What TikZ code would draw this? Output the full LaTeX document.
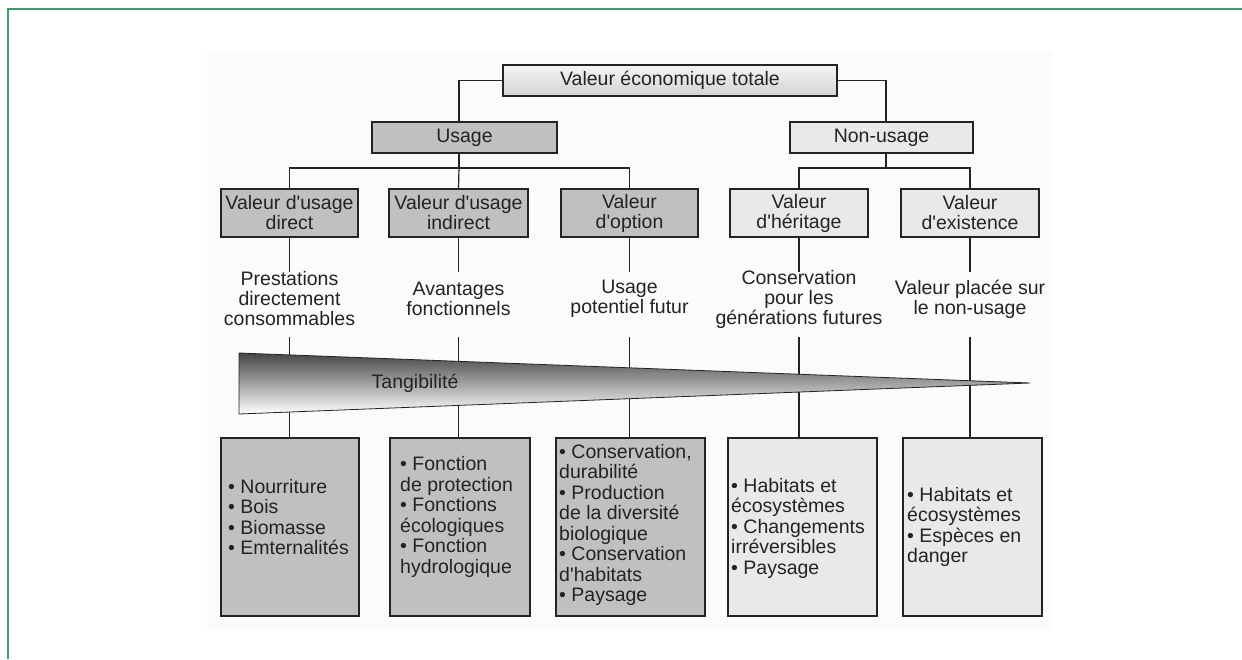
\documentclass[tikz,border=0pt]{standalone}
\usepackage{fontspec}
\setmainfont{Liberation Sans}
\usetikzlibrary{calc}
\definecolor{framegreen}{RGB}{64,155,105}
\definecolor{dk}{RGB}{35,35,35}
\definecolor{usefill}{RGB}{192,192,192}
\definecolor{nonfill}{RGB}{233,233,233}
\definecolor{tridark}{RGB}{70,70,70}
\newcommand{\ap}{\textquotesingle}
\begin{document}
\begin{tikzpicture}[x=1pt,y=-1pt,
  every node/.style={font=\fontsize{19.5}{20}\selectfont, text=dk, inner sep=0pt},
  box/.style={draw=dk, line width=1.2pt},
  ubox/.style={box, fill=usefill},
  nbox/.style={box, fill=nonfill},
  lvl/.style={minimum height=48pt, align=center},
  bot/.style={minimum height=178pt},
  conn/.style={draw=dk, line width=1.2pt},
  lst/.style={align=left, anchor=west, font=\fontsize{19.5}{20.5}\selectfont}
]
\useasboundingbox (0,0) rectangle (1242,659);
\fill[gray!3] (207,52) rectangle (1053,630);
\draw[framegreen, line width=2pt] (8,659) -- (8,9) -- (1242,9);

% top
\node[box, top color=gray!8, bottom color=gray!35, minimum width=334pt, minimum height=31pt] (top) at (670,80.5) {Valeur économique totale};
\node[ubox, minimum width=185pt, minimum height=31pt] (usage) at (464.5,137.5) {Usage};
\node[nbox, minimum width=183pt, minimum height=31pt] (nonusage) at (881.5,137.5) {Non-usage};

% level 3
\node[ubox, lvl, minimum width=137pt] (direct) at (289.5,213) {Valeur d\ap usage\\direct};
\node[ubox, lvl, minimum width=139pt] (indirect) at (458.5,213) {Valeur d\ap usage\\indirect};
\node[ubox, lvl, minimum width=137pt] (option) at (629.5,213) {Valeur\\d\ap option};
\node[nbox, lvl, minimum width=138pt] (heritage) at (799,213) {Valeur\\d\ap héritage};
\node[nbox, lvl, minimum width=138pt] (existence) at (970,213) {Valeur\\d\ap existence};

% junctions
\coordinate (uj) at (459,168);
\coordinate (nj) at (886,168);
\draw[conn] (top.west) -| (uj |- usage.north);
\draw[conn] (top.east) -| (nj |- nonusage.north);
\draw[conn] (uj |- usage.south) -- (uj);
\draw[conn] (nj |- nonusage.south) -- (nj);
\draw[conn] (direct.north) -- (direct.north |- uj) -- (option.north |- uj) -- (option.north);
\draw[conn] (uj) -- (indirect.north);
\draw[conn] (heritage.north) -- (heritage.north |- nj) -- (existence.north |- nj) -- (existence.north);

% descriptions
\node[align=center] (d1) at (289.5,299) {Prestations\\directement\\consommables};
\node[align=center] (d2) at (458.5,299) {Avantages\\fonctionnels};
\node[align=center] (d3) at (629.5,299) {Usage\\potentiel futur};
\node[align=center] (d4) at (799,299) {Conservation\\pour les\\générations futures};
\node[align=center] (d5) at (970,299) {Valeur placée sur\\le non-usage};

% bottom boxes
\node[ubox, bot, minimum width=138pt] (b1) at (290,527) {};
\node[ubox, bot, minimum width=140pt] (b2) at (460,527) {};
\node[ubox, bot, minimum width=149pt] (b3) at (630.5,527) {};
\node[nbox, bot, minimum width=149pt] (b4) at (802.5,527) {};
\node[nbox, bot, minimum width=139pt] (b5) at (972.5,527) {};

\coordinate (ya) at (0,272);
\coordinate (yb) at (0,337);
\foreach \u/\b in {direct/b1, indirect/b2, option/b3, heritage/b4, existence/b5}{
  \draw[conn] (\u.south) -- (\u.south |- ya);
  \draw[conn] (\u.south |- yb) -- (\u.south |- \b.north);
}

% tangibility wedge
\path[draw=dk, line width=0.8pt, top color=tridark, bottom color=white]
  (239,353) -- (1030,383) -- (239,414) -- cycle;
\node (tang) at (415,383) {Tangibilité};

% lists
\node[lst] (t1) at (228,517) {\textbullet{} Nourriture\\\textbullet{} Bois\\\textbullet{} Biomasse\\\textbullet{} Emternalités};
\node[lst] (t2) at (400,517) {\textbullet{} Fonction\\de protection\\\textbullet{} Fonctions\\écologiques\\\textbullet{} Fonction\\hydrologique};
\node[lst] (t3) at (559,525) {\textbullet{} Conservation,\\durabilité\\\textbullet{} Production\\de la diversité\\biologique\\\textbullet{} Conservation\\d\ap habitats\\\textbullet{} Paysage};
\node[lst] (t4) at (731,528) {\textbullet{} Habitats et\\écosystèmes\\\textbullet{} Changements\\irréversibles\\\textbullet{} Paysage};
\node[lst] (t5) at (907,527) {\textbullet{} Habitats et\\écosystèmes\\\textbullet{} Espèces en\\danger};
\end{tikzpicture}
\end{document}
